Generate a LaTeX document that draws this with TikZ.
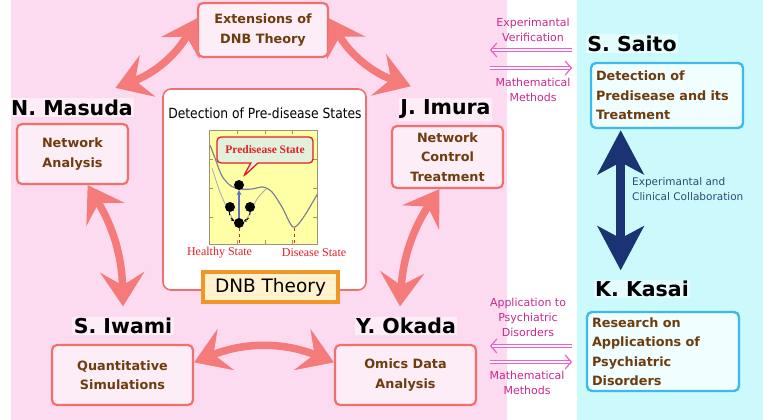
\documentclass[tikz,border=0pt]{standalone}
\usepackage{fontspec}
\setmainfont{DejaVu Sans}
\newfontfamily\narrowfont[FakeStretch=0.88]{DejaVu Sans}
\newfontfamily\plotfont{Liberation Serif}
\usetikzlibrary{arrows.meta,shapes.callouts,calc}
\definecolor{pinkbg}{rgb}{0.99, 0.86, 0.94}
\definecolor{cyanbg}{rgb}{0.80, 0.98, 0.99}
\definecolor{salmonline}{rgb}{0.94, 0.44, 0.43}
\definecolor{salmonarrow}{rgb}{0.96, 0.48, 0.48}
\definecolor{boxpink}{rgb}{0.99, 0.93, 0.965}
\definecolor{topicbrown}{rgb}{0.43, 0.24, 0.06}
\definecolor{skyline}{rgb}{0.24, 0.73, 0.92}
\definecolor{boxcyan}{rgb}{0.94, 0.995, 1.0}
\definecolor{linkpink}{rgb}{0.96, 0.36, 0.78}
\definecolor{linktext}{rgb}{0.80, 0.16, 0.55}
\definecolor{collabnavy}{rgb}{0.10, 0.20, 0.45}
\definecolor{collabtext}{rgb}{0.18, 0.29, 0.45}
\definecolor{plotyellow}{rgb}{1.0, 1.0, 0.65}
\definecolor{plotframe}{rgb}{0.62, 0.58, 0.45}
\definecolor{curvegray}{rgb}{0.50, 0.50, 0.58}
\definecolor{statered}{rgb}{0.88, 0.12, 0.16}
\definecolor{calloutgreen}{rgb}{0.89, 0.94, 0.86}
\definecolor{risecolor}{rgb}{0.38, 0.44, 0.75}
\definecolor{dnborange}{rgb}{0.94, 0.59, 0.16}
\definecolor{dnbcream}{rgb}{1.0, 0.95, 0.80}

\tikzset{
  researcher/.style={font=\bfseries\fontsize{20.5}{22}\selectfont, inner sep=1.5pt,
    fill=white, fill opacity=0.5, text opacity=1},
  taskbox/.style={draw=salmonline, line width=2.2pt, rounded corners=5pt, fill=boxpink,
    text=topicbrown, align=center, font=\bfseries\fontsize{12.8}{19.5}\selectfont},
  clinicbox/.style={draw=skyline, line width=2.4pt, rounded corners=5pt, fill=boxcyan,
    text=topicbrown, align=left, text width=142pt, inner sep=5pt,
    font=\bfseries\fontsize{12.8}{19.5}\selectfont},
  linklabel/.style={text=linktext, align=center, inner sep=0pt, font=\fontsize{11}{15}\selectfont},
  linkarrow/.style={draw=linkpink, double=white, double distance=1.8pt, line width=1.1pt,
    -{Straight Barb[length=6pt,width=14pt,line width=1.2pt]}},
  bigarrow/.style={draw=salmonarrow, line width=7.5pt,
    {Stealth[length=34pt,width=44pt,inset=13pt]}-{Stealth[length=34pt,width=44pt,inset=13pt]}},
  collabarrow/.style={draw=collabnavy, line width=9pt,
    {Stealth[length=44pt,width=46pt,inset=12pt]}-{Stealth[length=44pt,width=46pt,inset=12pt]}},
  ball/.style={circle, fill=black, minimum size=10pt, inner sep=0pt},
  statelabel/.style={text=statered, inner sep=0pt, font=\plotfont\fontsize{12}{14}\selectfont}
}

\begin{document}
\begin{tikzpicture}[x=1pt,y=-1pt]
\useasboundingbox (0,0) rectangle (763,420);

% backgrounds
\fill[white] (0,0) rectangle (763,420);
\fill[pinkbg] (11,0) rectangle (507,420);
\fill[cyanbg] (577,0) rectangle (763,420);

% central panel
\node[draw=salmonline, line width=1.6pt, rounded corners=8pt, fill=white,
  minimum width=203pt, minimum height=201pt] (panel) at (264.5,189.5) {};
\node[font=\narrowfont\fontsize{14}{16}\selectfont] (paneltitle) at (265,113) {Detection of Pre-disease States};

% potential landscape
\coordinate (plotSW) at (209,244);
\coordinate (plotNE) at (317,130);
\fill[plotyellow] (plotSW) rectangle (plotNE);
\begin{scope}
  \clip (plotSW) rectangle (plotNE);
  \draw[curvegray, line width=1.2pt] plot[smooth] coordinates {(210,145) (215,158) (222,176) (231,186) (240,189) (252,189) (263,187) (272,192) (282,207) (293,227) (303,218) (318,193)};
  \draw[curvegray!70, line width=0.8pt] plot[smooth] coordinates {(212,168) (220,192) (230,214) (239,227) (249,215) (257,199) (266,189)};
\end{scope}
\draw[plotframe, line width=0.8pt] (plotSW) rectangle (plotNE);
\foreach \tx in {237,265,292} {
  \draw[plotframe, line width=0.8pt] (\tx,130) -- (\tx,134);
  \draw[plotframe, line width=0.8pt] (\tx,244) -- (\tx,240);
}
\foreach \ty in {159,188,217} {
  \draw[plotframe, line width=0.8pt] (209,\ty) -- (213,\ty);
  \draw[plotframe, line width=0.8pt] (317,\ty) -- (313,\ty);
}

% states
\node[ball] (bTop) at (239,185) {};
\node[ball] (bLeft) at (230,207) {};
\node[ball] (bRight) at (250,207) {};
\node[ball] (bBottom) at (239,223) {};
\draw[risecolor, line width=1.2pt, -{Stealth[length=5pt,width=5pt]}] (bBottom) -- (bTop);
\draw[dashed, line width=0.9pt, -{Stealth[length=3pt,width=3pt]}] (bLeft) to[bend right=35] (bBottom);
\draw[dashed, line width=0.9pt, -{Stealth[length=3pt,width=3pt]}] (bRight) to[bend left=35] (bBottom);
\coordinate (diseaseMin) at (294,228);
\draw[statered, dashed, line width=1pt] (bBottom.south) -- (bBottom.south |- plotSW);
\draw[statered, dashed, line width=1pt] (diseaseMin) -- (diseaseMin |- plotSW);
\node[statelabel] (healthy) at (219.5,253) {Healthy State};
\node[statelabel] (disease) at (314,253) {Disease State};
\node[rectangle callout, draw=statered, line width=1.3pt, fill=calloutgreen, rounded corners=4pt,
  callout absolute pointer={(243,177)}, minimum width=96pt, minimum height=26pt, inner sep=1pt,
  text=statered, font=\plotfont\bfseries\fontsize{11.5}{13}\selectfont] (callout) at (265,150) {Predisease State};

% DNB Theory
\node[draw=dnborange, line width=3.5pt, fill=dnbcream, minimum width=135pt, minimum height=30pt,
  font=\fontsize{18.5}{20}\selectfont] (dnb) at (270.5,287) {DNB Theory};

% research topics
\node[taskbox, minimum width=130pt, minimum height=54pt] (ext) at (263,30) {Extensions of\\DNB Theory};
\node[taskbox, minimum width=111pt, minimum height=60pt] (masudaBox) at (72.5,154) {Network\\Analysis};
\node[taskbox, minimum width=111pt, minimum height=62pt] (imuraBox) at (447.5,157) {Network\\Control\\Treatment};
\node[taskbox, minimum width=141pt, minimum height=60pt] (iwamiBox) at (122.5,375) {Quantitative\\Simulations};
\node[taskbox, minimum width=141pt, minimum height=60pt] (okadaBox) at (405.5,375) {Omics Data\\Analysis};

% researchers
\node[researcher] (masuda) at (72,107.5) {N. Masuda};
\node[researcher] (imura) at (445.5,109.5) {J. Imura};
\node[researcher] (iwami) at (123,326) {S. Iwami};
\node[researcher] (okada) at (406,326) {Y. Okada};
\node[researcher] (saito) at (632,43.5) {S. Saito};
\node[researcher] (kasai) at (642,289) {K. Kasai};

% clinical side
\node[clinicbox, minimum height=65pt] (saitoBox) at (667,95.5) {Detection of\\Predisease and its\\Treatment};
\node[clinicbox, minimum height=79pt] (kasaiBox) at (663,351.5) {Research on\\Applications of\\Psychiatric\\Disorders};

% cooperation arrows
\draw[bigarrow] (ext.170) to[bend left=20] ($(masuda.north east)+(-19,-10)$);
\draw[bigarrow] (ext.10) to[bend right=20] ($(imura.north west)+(12,-12)$);
\draw[bigarrow] (masudaBox.-64) to[bend left=15] ($(iwami.north)+(0,-10)$);
\draw[bigarrow] (imuraBox.-104) to[bend right=15] ($(okada.north)+(-6,-10)$);
\draw[bigarrow] (iwamiBox.10) to[bend left=22] (okadaBox.170);

% links to clinical side
\coordinate (verifyR) at (572,50);
\coordinate (verifyL) at (490,50);
\coordinate (mathL) at (490,68);
\coordinate (mathR) at (572,68);
\coordinate (applyR) at (572,346);
\coordinate (applyL) at (490,346);
\coordinate (math2L) at (490,362);
\coordinate (math2R) at (572,362);
\draw[linkarrow] (verifyR) -- (verifyL);
\draw[linkarrow] (mathL) -- (mathR);
\draw[linkarrow] (applyR) -- (applyL);
\draw[linkarrow] (math2L) -- (math2R);
\node[linklabel] (verifyText) at (533,30) {Experimantal\\Verification};
\node[linklabel] (mathTextA) at (533,89.5) {Mathematical\\Methods};
\node[linklabel] (applyText) at (528,317) {Application to\\Psychiatric\\Disorders};
\node[linklabel] (mathTextB) at (527,383) {Mathematical\\Methods};

% collaboration
\coordinate (collabTop) at ($(saitoBox.south west)!0.2!(saitoBox.south east)$);
\draw[collabarrow, shorten <=1pt, shorten >=9pt] (collabTop) -- (collabTop |- kasai.north);
\node[anchor=west, align=left, inner sep=0pt, text=collabtext, font=\fontsize{10.5}{15}\selectfont]
  (collabText) at (632,189.5) {Experimantal and\\Clinical Collaboration};

\end{tikzpicture}
\end{document}
